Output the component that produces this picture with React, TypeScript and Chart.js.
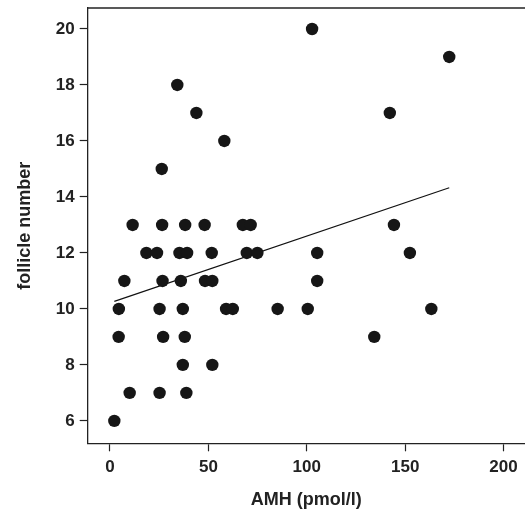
import React, { useEffect, useRef } from "react";
import { Chart, registerables } from "chart.js";

Chart.register(...registerables);

// Follicle number (y) vs AMH (pmol/l) (x)
const amhValues: number[] = [
  102.7, 172.4, 34.2, 43.9, 142.2, 58.1, 26.3,
  11.5, 26.5, 38.2, 48.1, 67.5, 71.5, 144.3,
  18.5, 23.9, 35.3, 39.2, 51.7, 69.5, 74.9, 105.3, 152.4,
  7.3, 26.7, 36.0, 48.3, 52.0, 105.3,
  4.5, 25.2, 37.0, 59.0, 62.4, 85.2, 100.5, 163.3,
  4.4, 27.0, 38.0, 134.3,
  37.0, 52.0,
  10.0, 25.2, 38.8,
  2.2,
];
const follicleValues: number[] = [
  20, 19, 18, 17, 17, 16, 15,
  13, 13, 13, 13, 13, 13, 13,
  12, 12, 12, 12, 12, 12, 12, 12, 12,
  11, 11, 11, 11, 11, 11,
  10, 10, 10, 10, 10, 10, 10, 10,
  9, 9, 9, 9,
  8, 8,
  7, 7, 7,
  6,
];
// Regression line endpoints
const fitX: number[] = [2.2, 172.4];
const fitY: number[] = [10.27, 14.33];

const xTicks: number[] = [0, 50, 100, 150, 200];
const yTicks: number[] = [6, 8, 10, 12, 14, 16, 18, 20];

const xTitle = "AMH (pmol/l)";
const yTitle = "follicle number";

const FONT = "'Liberation Sans', Arial, sans-serif";
const INK = "#222";

const topBorder = {
  id: "topBorder",
  afterDatasetsDraw(chart: any) {
    const { ctx, chartArea } = chart;
    ctx.save();
    ctx.strokeStyle = INK;
    ctx.lineWidth = 1.3;
    ctx.beginPath();
    ctx.moveTo(chartArea.left, chartArea.top);
    ctx.lineTo(chartArea.right, chartArea.top);
    ctx.stroke();
    ctx.restore();
  },
};

export default function App() {
  const ref = useRef<HTMLCanvasElement | null>(null);

  useEffect(() => {
    if (!ref.current) return;
    const points = amhValues.map((x, i) => ({ x, y: follicleValues[i] }));
    const fit = fitX.map((x, i) => ({ x, y: fitY[i] }));
    const chart = new Chart(ref.current, {
      type: "scatter",
      data: {
        datasets: [
          {
            type: "line",
            data: fit,
            borderColor: "#111",
            borderWidth: 1.2,
            pointRadius: 0,
            fill: false,
            order: 1,
          } as any,
          {
            data: points,
            backgroundColor: "#161616",
            borderWidth: 0,
            pointRadius: 6.2,
            pointHoverRadius: 6.2,
            clip: false,
            order: 0,
          } as any,
        ],
      },
      options: {
        animation: false,
        responsive: false,
        maintainAspectRatio: false,
        layout: { autoPadding: false, padding: { top: 8, left: 0, right: 0, bottom: 0 } },
        plugins: { legend: { display: false }, tooltip: { enabled: false } },
        scales: {
          x: {
            type: "linear",
            min: -11.33,
            max: 210.9,
            afterBuildTicks: (scale: any) => {
              scale.ticks = xTicks.map((v) => ({ value: v }));
            },
            afterFit: (scale: any) => {
              scale.height = 69.7;
              scale.paddingLeft = 0;
              scale.paddingRight = 0;
            },
            grid: {
              display: true,
              drawOnChartArea: false,
              drawTicks: true,
              tickLength: 8,
              tickColor: INK,
              tickWidth: 1.2,
            },
            border: { display: true, color: INK, width: 1.3 },
            ticks: {
              padding: 6,
              color: INK,
              font: { family: FONT, size: 17, weight: "bold" },
              maxRotation: 0,
            },
            title: {
              display: true,
              text: xTitle,
              color: INK,
              font: { family: FONT, size: 18, weight: "bold" },
              padding: { top: 0, bottom: 2 },
            },
          },
          y: {
            type: "linear",
            min: 5.2,
            max: 20.75,
            afterBuildTicks: (scale: any) => {
              scale.ticks = yTicks.map((v) => ({ value: v }));
            },
            afterFit: (scale: any) => {
              scale.width = 87.7;
              scale.paddingTop = 0;
              scale.paddingBottom = 0;
            },
            grid: {
              display: true,
              drawOnChartArea: false,
              drawTicks: true,
              tickLength: 8,
              tickColor: INK,
              tickWidth: 1.2,
            },
            border: { display: true, color: INK, width: 1.3 },
            ticks: {
              padding: 5,
              color: INK,
              font: { family: FONT, size: 17, weight: "bold" },
            },
            title: {
              display: true,
              text: yTitle,
              color: INK,
              font: { family: FONT, size: 18, weight: "bold" },
              padding: { top: 14.7, bottom: 0 },
            },
          },
        },
      },
      plugins: [topBorder],
    });
    return () => chart.destroy();
  }, []);

  return (
    <div style={{ position: "absolute", left: 0, top: 0, width: 525, height: 513, background: "#fff" }}>
      <canvas ref={ref} width={525} height={513} style={{ width: 525, height: 513 }} />
    </div>
  );
}
